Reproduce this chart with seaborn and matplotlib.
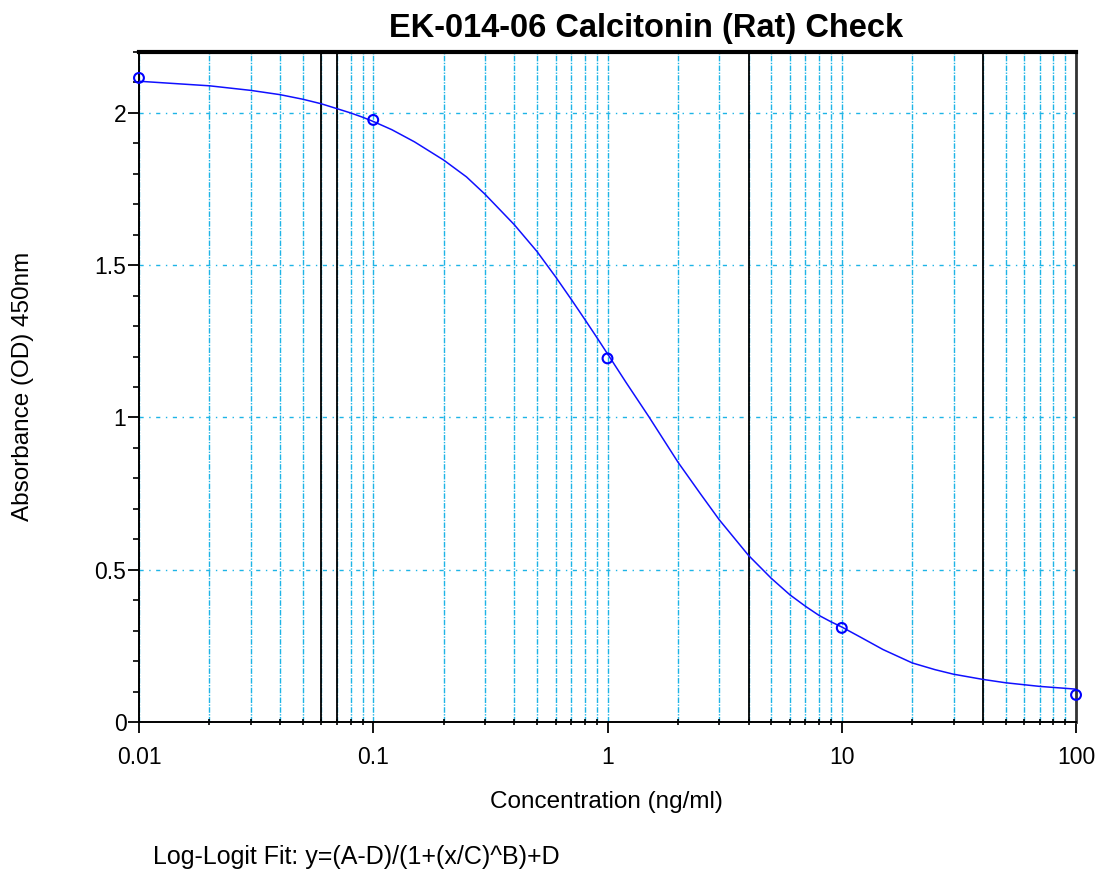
import numpy as np
import pandas as pd
import seaborn as sns
import matplotlib

matplotlib.use('Agg')
import matplotlib.pyplot as plt
from matplotlib.ticker import LogLocator, FixedLocator, NullFormatter

# ==================== data ====================
conc = [0.01, 0.1, 1, 10, 100]
absorb = [2.115, 1.977, 1.194, 0.309, 0.089]

# fitted curve
curve_x = [0.01, 0.02, 0.03, 0.04, 0.05, 0.06, 0.07, 0.08, 0.09, 0.1,
           0.12, 0.15, 0.2, 0.25, 0.3, 0.4, 0.5, 0.6, 0.7, 0.8, 0.9,
           1, 1.2, 1.5, 2, 2.5, 3, 4, 5, 6, 7, 8, 9,
           10, 12, 15, 20, 25, 30, 40, 50, 70, 100]
curve_y = [2.104, 2.089, 2.074, 2.060, 2.045, 2.030, 2.014, 2.000, 1.986, 1.972,
           1.945, 1.905, 1.845, 1.790, 1.733, 1.633, 1.545, 1.462, 1.388, 1.322, 1.263,
           1.209, 1.115, 1.003, 0.853, 0.748, 0.664, 0.547, 0.472, 0.418, 0.380, 0.350, 0.329,
           0.312, 0.279, 0.238, 0.194, 0.172, 0.157, 0.140, 0.129, 0.117, 0.108]

# grid lines drawn black instead of cyan
black_lines = [0.06, 0.07, 4, 40]

x_ticks = [0.01, 0.1, 1, 10, 100]
x_tick_labels = ['0.01', '0.1', '1', '10', '100']
y_ticks = [0, 0.5, 1, 1.5, 2]
y_tick_labels = ['0', '0.5', '1', '1.5', '2']

FIGURE_SIZE = (11.1, 8.77)
FIGURE_DPI = 100

sns.set_style('white')
plt.rcParams['font.family'] = ['Liberation Sans', 'DejaVu Sans']
plt.rcParams['text.color'] = 'black'
plt.rcParams['xtick.labelcolor'] = 'black'
plt.rcParams['ytick.labelcolor'] = 'black'

fig = plt.figure(figsize=FIGURE_SIZE, dpi=FIGURE_DPI)
ax = fig.add_axes([0.1252, 0.1767, 0.8442, 0.764])

grid_color = '#1eb4e6'
ax.set_xscale('log')
ax.set_xlim(0.01, 100)
ax.set_ylim(0, 2.2)

# vertical grid at every tick of the log axis
ax.xaxis.set_major_locator(FixedLocator(x_ticks))
ax.xaxis.set_minor_locator(LogLocator(base=10, subs=np.arange(2, 10)))
ax.xaxis.set_minor_formatter(NullFormatter())
ax.set_xticks(x_ticks)
ax.set_xticklabels(x_tick_labels)
ax.grid(True, axis='x', which='both', color=grid_color, linestyle=(0, (4, 1, 1, 1)), linewidth=1)

# horizontal grid
ax.set_yticks(y_ticks)
ax.set_yticklabels(y_tick_labels)
ax.yaxis.set_minor_locator(FixedLocator(np.arange(0, 2.21, 0.1)))
ax.grid(True, axis='y', which='major', color=grid_color, linestyle=(0, (3, 4, 1, 4)), linewidth=1)

for xv in black_lines:
    ax.axvline(xv, color='black', linewidth=1.3, zorder=1.5)

df_curve = pd.DataFrame({'x': curve_x, 'y': curve_y})
sns.lineplot(data=df_curve, x='x', y='y', color='#1010ff', linewidth=1.1, ax=ax, zorder=3)

df_pts = pd.DataFrame({'x': conc, 'y': absorb})
sns.scatterplot(data=df_pts, x='x', y='y', marker='o', s=50, facecolor='none',
                edgecolor='#0000ff', linewidth=1.5, ax=ax, zorder=4, clip_on=False)

ax.tick_params(axis='both', which='both', bottom=True, left=True, top=False, right=False,
               colors='black', labelcolor='black')
ax.tick_params(axis='x', which='major', direction='out', length=8, width=1.3,
               labelsize=16.5, pad=9)
ax.tick_params(axis='x', which='minor', direction='inout', length=5, width=1.2)
ax.tick_params(axis='y', which='major', direction='out', length=8, width=1.3,
               labelsize=16.5, pad=1)
ax.tick_params(axis='y', which='minor', direction='out', length=4, width=1.2)

for side in ['left', 'bottom']:
    ax.spines[side].set_color('black')
    ax.spines[side].set_linewidth(1.4)
ax.spines['top'].set_color('black')
ax.spines['top'].set_linewidth(3)
ax.spines['right'].set_color('#333333')
ax.spines['right'].set_linewidth(2)

ax.set_xlabel('')
ax.set_ylabel('')
fig.text(0.582, 0.968, 'EK-014-06 Calcitonin (Rat) Check', ha='center', va='center',
         fontsize=23.5, fontweight='bold', color='black')
fig.text(0.546, 0.0855, 'Concentration (ng/ml)', ha='center', va='center', fontsize=17.5,
         color='black')
fig.text(0.021, 0.559, 'Absorbance (OD) 450nm', ha='center', va='center', rotation=90,
         fontsize=17.5, color='black')
fig.text(0.138, 0.023, 'Log-Logit Fit: y=(A-D)/(1+(x/C)^B)+D', ha='left', va='center',
         fontsize=18, color='black')

fig.savefig('out.png', dpi=FIGURE_DPI)
plt.close('all')
